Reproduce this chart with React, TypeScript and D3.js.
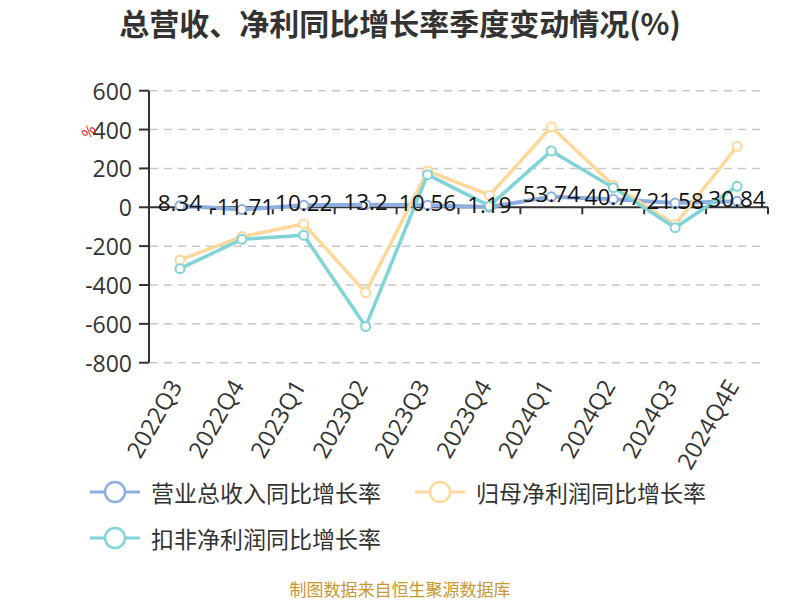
import { useEffect, useRef } from "react";
import * as d3 from "d3";

const quarters = ["2022Q3", "2022Q4", "2023Q1", "2023Q2", "2023Q3", "2023Q4", "2024Q1", "2024Q2", "2024Q3", "2024Q4E"];
const revenueGrowth = [8.34, -11.71, 10.22, 13.2, 10.56, 1.19, 53.74, 40.77, 21.58, 30.84];
const netProfitGrowth = [-271, -151, -86, -439, 187, 62, 413, 113, -90, 314];
const deductedProfitGrowth = [-316, -165, -144, -614, 168, 7, 290, 101, -105, 108];
const yTicks = [600, 400, 200, 0, -200, -400, -600, -800];

const seriesNames = ["营业总收入同比增长率", "归母净利润同比增长率", "扣非净利润同比增长率"];
const seriesColors = ["#8eaedf", "#fed79a", "#80d4d7"];

const FONT = "'Noto Sans CJK SC', 'Noto Sans', sans-serif";
const NUM_FONT = "'Open Sans', 'Noto Sans CJK SC', sans-serif";

export default function App() {
  const svgRef = useRef<SVGSVGElement>(null);

  useEffect(() => {
    if (!svgRef.current) return;
    const width = 800;
    const height = 600;
    const svg = d3.select(svgRef.current).attr("width", width).attr("height", height);
    svg.selectAll("*").remove();

    svg.append("rect").attr("width", width).attr("height", height).attr("fill", "#fff");

    const x = d3.scaleBand<string>().domain(quarters).range([149, 768]);
    const y = d3.scaleLinear().domain([-800, 600]).range([362.7, 90.7]);
    const cx = (d: string) => (x(d) || 0) + x.bandwidth() / 2;

    // title
    svg.append("text")
      .attr("x", 400).attr("y", 22)
      .attr("text-anchor", "middle").attr("dominant-baseline", "central")
      .attr("fill", "#333").style("font-family", FONT)
      .style("font-size", "30px").style("font-weight", "bold")
      .text("总营收、净利同比增长率季度变动情况(%)");

    // grid lines
    svg.append("g").selectAll("line")
      .data(yTicks.filter((t) => t !== 0))
      .join("line")
      .attr("x1", 150).attr("x2", 766)
      .attr("y1", (d) => y(d)).attr("y2", (d) => y(d))
      .attr("stroke", "#c8c8c8").attr("stroke-width", 1.5)
      .attr("stroke-dasharray", "8,6");

    // y axis
    const yAxis = svg.append("g");
    yAxis.append("line")
      .attr("x1", 149).attr("x2", 149)
      .attr("y1", y(600)).attr("y2", y(-800))
      .attr("stroke", "#333").attr("stroke-width", 2);
    yAxis.selectAll("line.tick")
      .data(yTicks)
      .join("line")
      .attr("class", "tick")
      .attr("x1", 139).attr("x2", 149)
      .attr("y1", (d) => y(d)).attr("y2", (d) => y(d))
      .attr("stroke", "#333").attr("stroke-width", 2);
    yAxis.selectAll("text")
      .data(yTicks)
      .join("text")
      .attr("x", 132).attr("y", (d) => y(d))
      .attr("text-anchor", "end").attr("dominant-baseline", "central")
      .attr("fill", "#333").style("font-family", NUM_FONT).style("font-size", "23px")
      .text((d) => d);

    // axis name
    svg.append("text")
      .attr("transform", `translate(88,131) rotate(-50)`)
      .attr("text-anchor", "middle").attr("dominant-baseline", "central")
      .attr("fill", "#e00").style("font-family", FONT).style("font-size", "14px")
      .text("%");

    // x axis on zero
    const xAxis = svg.append("g");
    xAxis.append("line")
      .attr("x1", 149).attr("x2", 768)
      .attr("y1", y(0)).attr("y2", y(0))
      .attr("stroke", "#333").attr("stroke-width", 2);
    const boundaries = quarters.map((q) => x(q) || 0).concat([768]);
    xAxis.selectAll("line.tick")
      .data(boundaries)
      .join("line")
      .attr("class", "tick")
      .attr("x1", (d) => d).attr("x2", (d) => d)
      .attr("y1", y(0)).attr("y2", y(0) + 7)
      .attr("stroke", "#333").attr("stroke-width", 2);

    // x labels
    svg.append("g").selectAll("text")
      .data(quarters)
      .join("text")
      .attr("transform", (d) => `translate(${cx(d) + 3},${386}) rotate(-60)`)
      .attr("text-anchor", "end")
      .attr("fill", "#333").style("font-family", NUM_FONT).style("font-size", "23.5px")
      .text((d) => d);

    // lines
    const allSeries = [revenueGrowth, netProfitGrowth, deductedProfitGrowth];
    const line = d3.line<number>()
      .x((_, i) => cx(quarters[i]))
      .y((d) => y(d));

    allSeries.forEach((values, si) => {
      const g = svg.append("g");
      g.append("path")
        .datum(values)
        .attr("d", line)
        .attr("fill", "none")
        .attr("stroke", seriesColors[si])
        .attr("stroke-width", si === 0 ? 4 : 3.5)
        .attr("stroke-linejoin", "round");
      g.selectAll("circle")
        .data(values)
        .join("circle")
        .attr("cx", (_, i) => cx(quarters[i]))
        .attr("cy", (d) => y(d))
        .attr("r", 4.5)
        .attr("fill", "#fff")
        .attr("stroke", seriesColors[si])
        .attr("stroke-width", 2);
    });

    // revenue data labels
    svg.append("g").selectAll("text")
      .data(revenueGrowth)
      .join("text")
      .attr("x", (_, i) => cx(quarters[i]))
      .attr("y", (d) => y(d) - 3)
      .attr("text-anchor", "middle").attr("dominant-baseline", "central")
      .attr("fill", "#111").style("font-family", NUM_FONT).style("font-size", "22.5px")
      .text((d) => d);

    // legend
    const legendItems = [
      { x: 90, y: 492 },
      { x: 415, y: 492 },
      { x: 90, y: 538 },
    ];
    legendItems.forEach((p, i) => {
      const g = svg.append("g").attr("transform", `translate(${p.x},${p.y})`);
      g.append("line")
        .attr("x1", 0).attr("x2", 50)
        .attr("stroke", seriesColors[i]).attr("stroke-width", 3);
      g.append("circle")
        .attr("cx", 25).attr("r", 10)
        .attr("fill", "#fff").attr("stroke", seriesColors[i]).attr("stroke-width", 2.5);
      g.append("text")
        .attr("x", 61).attr("dominant-baseline", "central")
        .attr("fill", "#333").style("font-family", FONT).style("font-size", "23px")
        .text(seriesNames[i]);
    });

    // source
    svg.append("text")
      .attr("x", 400).attr("y", 588)
      .attr("text-anchor", "middle").attr("dominant-baseline", "central")
      .attr("fill", "#c8982f").style("font-family", FONT).style("font-size", "17px")
      .text("制图数据来自恒生聚源数据库");
  }, []);

  return (
    <div style={{ position: "absolute", left: 0, top: 0 }}>
      <svg ref={svgRef} style={{ display: "block" }} />
    </div>
  );
}
